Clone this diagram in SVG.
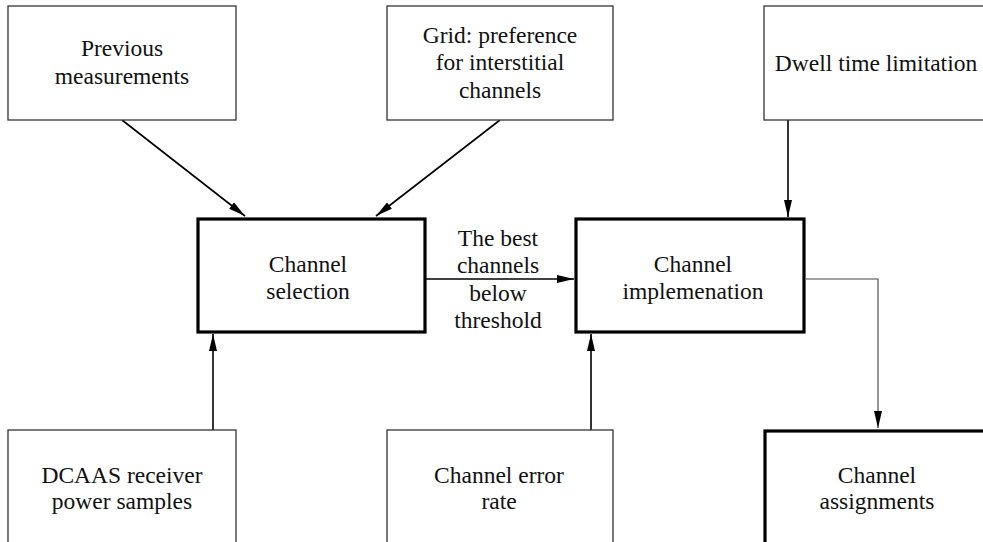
<svg xmlns="http://www.w3.org/2000/svg" width="983" height="542" viewBox="0 0 983 542">
<style>
.box{fill:#fff;stroke:#333;stroke-width:1.3}
.thick{fill:#fff;stroke:#000;stroke-width:3.2}
text{font-family:"Liberation Serif","Times New Roman",serif;font-size:23.5px;fill:#111;text-anchor:middle}
.c{fill:none;stroke:#000;stroke-width:1.6}
.thin{fill:none;stroke:#444;stroke-width:1.1}
</style>
<defs>
<marker id="ah" viewBox="0 0 17 8" refX="17" refY="4" markerWidth="17" markerHeight="8" markerUnits="userSpaceOnUse" orient="auto">
<path d="M0,0 L17,4 L0,8 Z" fill="#000"/>
</marker>
</defs>
<rect width="983" height="542" fill="#fff"/>
<g id="connectors">
<line class="c" x1="122" y1="120" x2="245" y2="216" marker-end="url(#ah)"/>
<line class="c" x1="500" y1="120" x2="376" y2="216" marker-end="url(#ah)"/>
<line class="c" x1="788" y1="120" x2="788" y2="217" marker-end="url(#ah)"/>
<line class="c" x1="426" y1="279" x2="574" y2="279" marker-end="url(#ah)"/>
<line class="c" x1="213" y1="430" x2="213" y2="334" marker-end="url(#ah)"/>
<line class="c" x1="591" y1="430" x2="591" y2="334" marker-end="url(#ah)"/>
<polyline class="thin" points="806,279 878,279 878,428" marker-end="url(#ah)"/>
</g>
<g id="prev">
<rect class="box" x="8" y="6" width="228" height="114"/>
<text x="122" y="56">Previous</text>
<text x="122" y="84">measurements</text>
</g>
<g id="grid">
<rect class="box" x="387" y="6" width="226" height="114"/>
<text x="500" y="43">Grid: preference</text>
<text x="500" y="70">for interstitial</text>
<text x="500" y="98">channels</text>
</g>
<g id="dwell">
<rect class="box" x="764" y="6" width="225" height="114"/>
<text x="876" y="71">Dwell time limitation</text>
</g>
<g id="selection">
<rect class="thick" x="198" y="219" width="227" height="113"/>
<text x="308" y="272">Channel</text>
<text x="308" y="299">selection</text>
</g>
<g id="label">
<text x="498" y="246">The best</text>
<text x="498" y="273">channels</text>
<text x="498" y="301">below</text>
<text x="498" y="328">threshold</text>
</g>
<g id="implementation">
<rect class="thick" x="576" y="219" width="228" height="113"/>
<text x="693" y="272">Channel</text>
<text x="693" y="299">implemenation</text>
</g>
<g id="dcaas">
<rect class="box" x="8" y="430" width="228" height="120"/>
<text x="122" y="483">DCAAS receiver</text>
<text x="122" y="509">power samples</text>
</g>
<g id="error">
<rect class="box" x="387" y="430" width="226" height="120"/>
<text x="499" y="483">Channel error</text>
<text x="499" y="509">rate</text>
</g>
<g id="assign">
<rect class="thick" x="765" y="431" width="225" height="120"/>
<text x="877" y="483">Channel</text>
<text x="877" y="509">assignments</text>
</g>
</svg>
